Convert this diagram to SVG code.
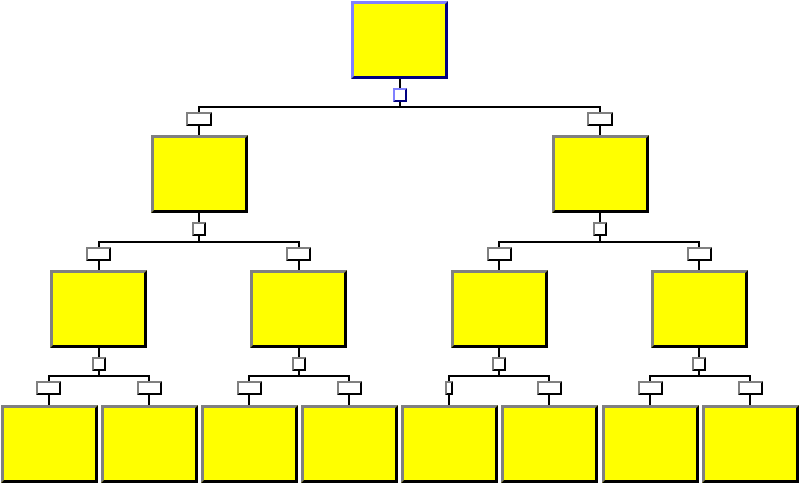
<svg xmlns="http://www.w3.org/2000/svg" width="800" height="484" viewBox="0 0 800 484">
<style>
.f{fill:#ffff00}
.w{fill:#ffffff}
.lt{fill:#808080}
.dk{fill:#000000}
.blt{fill:#8080ff}
.bdk{fill:#000080}
.ln{stroke:#000000;stroke-width:2;fill:none}
</style>
<defs>
<g id="box">
<rect class="f" x="0" y="0" width="97" height="78"/>
<path class="lt" d="M0 0H97L94 3H3V75L0 78Z"/>
<path class="dk" d="M97 0V78H0L3 75H94V3Z"/>
</g>
<g id="sq">
<rect class="w" x="0" y="0" width="14" height="14"/>
<path class="lt" d="M0 0H14L12 2H2V12L0 14Z"/>
<path class="dk" d="M14 0V14H0L2 12H12V2Z"/>
</g>
<g id="lb">
<rect class="w" x="0" y="0" width="25" height="14"/>
<path class="lt" d="M0 0H25L23 2H2V12L0 14Z"/>
<path class="dk" d="M25 0V14H0L2 12H23V2Z"/>
</g>
<g id="lb2">
<rect class="w" x="0" y="0" width="26" height="14"/>
<path class="lt" d="M0 0H26L24 2H2V12L0 14Z"/>
<path class="dk" d="M26 0V14H0L2 12H24V2Z"/>
</g>
<g id="lbn">
<rect class="w" x="0" y="0" width="8" height="14"/>
<path class="lt" d="M0 0H8L6 2H2V12L0 14Z"/>
<path class="dk" d="M8 0V14H0L2 12H6V2Z"/>
</g>
</defs>
<g id="connectors">
<line class="ln" x1="400" y1="79" x2="400" y2="107"/>
<line class="ln" x1="198" y1="107" x2="601" y2="107"/>
<line class="ln" x1="199" y1="107" x2="199" y2="135"/>
<line class="ln" x1="600" y1="107" x2="600" y2="135"/>
<line class="ln" x1="199" y1="213" x2="199" y2="242"/>
<line class="ln" x1="600" y1="213" x2="600" y2="242"/>
<line class="ln" x1="98" y1="242" x2="300" y2="242"/>
<line class="ln" x1="498" y1="242" x2="700" y2="242"/>
<line class="ln" x1="99" y1="242" x2="99" y2="270"/>
<line class="ln" x1="299" y1="242" x2="299" y2="270"/>
<line class="ln" x1="499" y1="242" x2="499" y2="270"/>
<line class="ln" x1="699" y1="242" x2="699" y2="270"/>
<line class="ln" x1="99" y1="348" x2="99" y2="376"/>
<line class="ln" x1="299" y1="348" x2="299" y2="376"/>
<line class="ln" x1="499" y1="348" x2="499" y2="376"/>
<line class="ln" x1="699" y1="348" x2="699" y2="376"/>
<line class="ln" x1="48" y1="376" x2="150" y2="376"/>
<line class="ln" x1="248" y1="376" x2="350" y2="376"/>
<line class="ln" x1="448" y1="376" x2="550" y2="376"/>
<line class="ln" x1="649" y1="376" x2="751" y2="376"/>
<line class="ln" x1="49" y1="376" x2="49" y2="405"/>
<line class="ln" x1="149" y1="376" x2="149" y2="405"/>
<line class="ln" x1="249" y1="376" x2="249" y2="405"/>
<line class="ln" x1="349" y1="376" x2="349" y2="405"/>
<line class="ln" x1="449" y1="376" x2="449" y2="405"/>
<line class="ln" x1="549" y1="376" x2="549" y2="405"/>
<line class="ln" x1="650" y1="376" x2="650" y2="405"/>
<line class="ln" x1="750" y1="376" x2="750" y2="405"/>
<use href="#lb2" x="186" y="112"/>
<use href="#lb2" x="587" y="112"/>
<use href="#lb" x="86" y="247"/>
<use href="#lb" x="286" y="247"/>
<use href="#lb" x="487" y="247"/>
<use href="#lb" x="687" y="247"/>
<use href="#lb" x="36" y="381"/>
<use href="#lb" x="137" y="381"/>
<use href="#lb" x="237" y="381"/>
<use href="#lb" x="337" y="381"/>
<use href="#lbn" x="445" y="381"/>
<use href="#lb" x="537" y="381"/>
<use href="#lb" x="638" y="381"/>
<use href="#lb" x="738" y="381"/>
</g>
<g id="root">
<rect class="f" x="351" y="1" width="97" height="78"/>
<path class="blt" d="M351 1H448L445 4H354V76L351 79Z"/>
<path class="bdk" d="M448 1V79H351L354 76H445V4Z"/>
<rect class="w" x="393" y="88" width="14" height="14"/>
<path class="blt" d="M393 88H407L405 90H395V100L393 102Z"/>
<path class="bdk" d="M407 88V102H393L395 100H405V90Z"/>
</g>
<g id="n2a"><use href="#box" x="151" y="135"/><use href="#sq" x="192" y="222"/></g>
<g id="n2b"><use href="#box" x="552" y="135"/><use href="#sq" x="593" y="222"/></g>
<g id="n3a"><use href="#box" x="50" y="270"/><use href="#sq" x="92" y="357"/></g>
<g id="n3b"><use href="#box" x="250" y="270"/><use href="#sq" x="292" y="357"/></g>
<g id="n3c"><use href="#box" x="451" y="270"/><use href="#sq" x="492" y="357"/></g>
<g id="n3d"><use href="#box" x="651" y="270"/><use href="#sq" x="692" y="357"/></g>
<g id="n4a"><use href="#box" x="1" y="405"/></g>
<g id="n4b"><use href="#box" x="101" y="405"/></g>
<g id="n4c"><use href="#box" x="201" y="405"/></g>
<g id="n4d"><use href="#box" x="301" y="405"/></g>
<g id="n4e"><use href="#box" x="401" y="405"/></g>
<g id="n4f"><use href="#box" x="501" y="405"/></g>
<g id="n4g"><use href="#box" x="602" y="405"/></g>
<g id="n4h"><use href="#box" x="702" y="405"/></g>
</svg>
